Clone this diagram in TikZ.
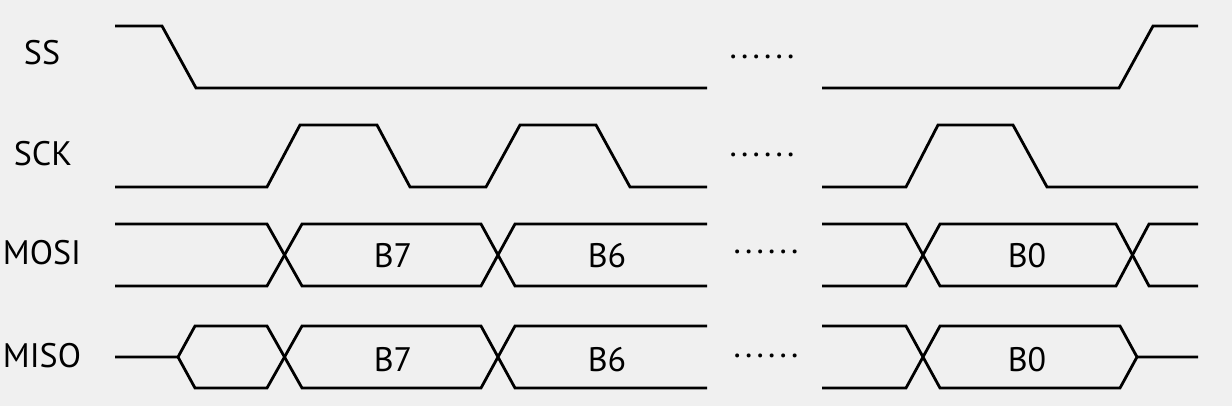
\documentclass[tikz,border=0pt]{standalone}
\usepackage{fontspec}
\setmainfont{PT Sans}
\definecolor{bg}{HTML}{F0F0F0}
\tikzset{
  wave/.style={line width=2.8pt, line join=miter, black},
  lbl/.style={anchor=base, inner sep=0pt, font=\fontsize{34}{36}\selectfont},
  dat/.style={anchor=base, inner sep=0pt, font=\fontsize{34}{36}\selectfont},
  dots/.style={anchor=base, inner sep=0pt, font=\fontsize{34}{36}\selectfont\addfontfeature{LetterSpace=6}}
}
\begin{document}
\begin{tikzpicture}[x=1pt,y=-1pt]
\fill[bg] (0,0) rectangle (1232,406);
\useasboundingbox (0,0) rectangle (1232,406);
% labels
\node[lbl] (lss) at (42,65) {SS};
\node[lbl] (lsck) at (43,166) {SCK};
\node[lbl] (lmosi) at (42,265) {MOSI};
\node[lbl] (lmiso) at (42,367) {MISO};
% dots
\node[dots] (d1) at (762,59) {......};
\node[dots] (d2) at (762,157) {......};
\node[dots] (d3) at (766,254) {......};
\node[dots] (d4) at (766,357) {......};
% SS
\draw[wave] (115,26)--(162,26)--(196,88)--(707,88);
\draw[wave] (822,88)--(1119,88)--(1153,26)--(1198,26);
% SCK
\draw[wave] (115,187)--(267,187)--(300,125)--(377,125)--(410,187)--(486,187)--(520,125)--(596,125)--(630,187)--(707,187);
\draw[wave] (822,187)--(906,187)--(938,125)--(1013,125)--(1047,187)--(1198,187);
% MOSI
\draw[wave] (115,224)--(267,224)--(302,286)--(481,286)--(515,224)--(707,224);
\draw[wave] (115,286)--(267,286)--(302,224)--(481,224)--(515,286)--(707,286);
\draw[wave] (822,224)--(906,224)--(940,286)--(1116,286)--(1149,224)--(1198,224);
\draw[wave] (822,286)--(906,286)--(940,224)--(1116,224)--(1149,286)--(1198,286);
% MISO
\draw[wave] (115,357)--(178,357)--(195,326)--(267,326)--(302,388)--(481,388)--(515,326)--(707,326);
\draw[wave] (178,357)--(195,388)--(267,388)--(302,326)--(481,326)--(515,388)--(707,388);
\draw[wave] (822,326)--(906,326)--(940,388)--(1120,388)--(1137,357)--(1198,357);
\draw[wave] (822,388)--(906,388)--(940,326)--(1120,326)--(1137,357);
% data labels
\node[dat] (mo7) at (393,268) {B7};
\node[dat] (mo6) at (607,268) {B6};
\node[dat] (mo0) at (1027,268) {B0};
\node[dat] (mi7) at (393,371) {B7};
\node[dat] (mi6) at (607,371) {B6};
\node[dat] (mi0) at (1027,371) {B0};
\end{tikzpicture}
\end{document}
